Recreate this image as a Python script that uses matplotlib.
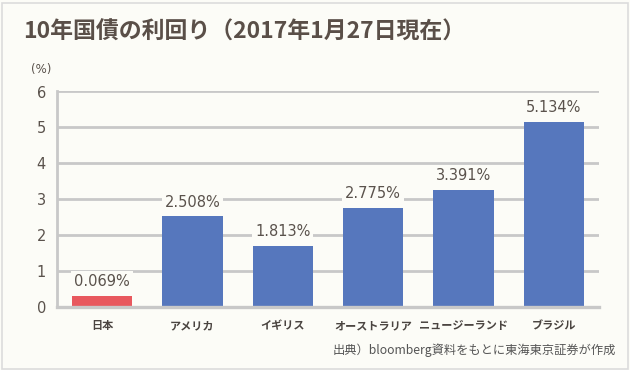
import matplotlib
matplotlib.use("Agg")
import matplotlib.pyplot as plt
from matplotlib.patches import Rectangle

categories = ["日本", "アメリカ", "イギリス", "オーストラリア", "ニュージーランド", "ブラジル"]
bar_heights = [0.30, 2.52, 1.70, 2.76, 3.26, 5.15]
value_labels = ["0.069%", "2.508%", "1.813%", "2.775%", "3.391%", "5.134%"]
yticks = [0, 1, 2, 3, 4, 5, 6]

BG = "#FCFCF7"
BLUE = "#5677BD"
RED = "#E8585E"
GRID = "#C8C8C8"
TXT = "#5A524C"

plt.rcParams['font.family'] = ['Noto Sans CJK JP', 'DejaVu Sans']

W, H = 630, 370
fig = plt.figure(figsize=(W / 100, H / 100), dpi=100, facecolor=BG)
fig.patches.append(Rectangle((1.5 / W, 1.5 / H), 1 - 4 / W, 1 - 4 / H, transform=fig.transFigure,
                             fill=False, ec="#DCDCDC", lw=1.2))

ax = fig.add_axes([57 / W, (H - 307) / H, 542 / W, (307 - 91.5) / H])
ax.set_facecolor(BG)
colors = [RED] + [BLUE] * (len(categories) - 1)
x = list(range(len(categories)))
ax.bar(x, bar_heights, width=0.665, color=colors, zorder=3)
ax.set_xlim(-0.5, len(categories) - 0.5)
ax.set_ylim(0, 6)
ax.set_yticks(yticks)
ax.set_yticklabels([str(t) for t in yticks], family='DejaVu Sans', fontsize=10.5, color=TXT)
ax.set_xticks(x)
ax.set_xticklabels(categories, fontsize=8, fontweight='bold', color="#4A4440")
ax.tick_params(axis='y', length=0, pad=8)
ax.tick_params(axis='x', length=0, pad=9)
ax.yaxis.grid(True, color=GRID, lw=2.0, zorder=1)
ax.set_axisbelow(True)
for s in ["top", "right", "bottom"]:
    ax.spines[s].set_visible(False)
ax.spines["left"].set_color(GRID)
ax.spines["left"].set_linewidth(2.0)
ax.axhline(0, color=GRID, lw=2.4, zorder=4, clip_on=False)

for xi, h, lab in zip(x, bar_heights, value_labels):
    ax.annotate(lab, (xi, h), xytext=(0, 5), textcoords='offset points', ha='center', va='bottom',
                family='DejaVu Sans', fontsize=10.5, color=TXT, zorder=5,
                bbox=dict(boxstyle='square,pad=0.2', fc=BG, ec='none'))

fig.text(23 / W, 1 - 32 / H, "10年国債の利回り（2017年1月27日現在）", fontsize=16.5, fontweight='bold',
         color="#5A4F48", ha='left', va='center')
fig.text(41 / W, 1 - 70 / H, "(%)", family='DejaVu Sans', fontsize=8.5, color=TXT, ha='center', va='center')
fig.text(616 / W, 1 - 350 / H, "出典）bloomberg資料をもとに東海東京証券が作成", fontsize=8.8,
         color="#555555", ha='right', va='center')

fig.savefig("out.png", dpi=100, facecolor=BG)
